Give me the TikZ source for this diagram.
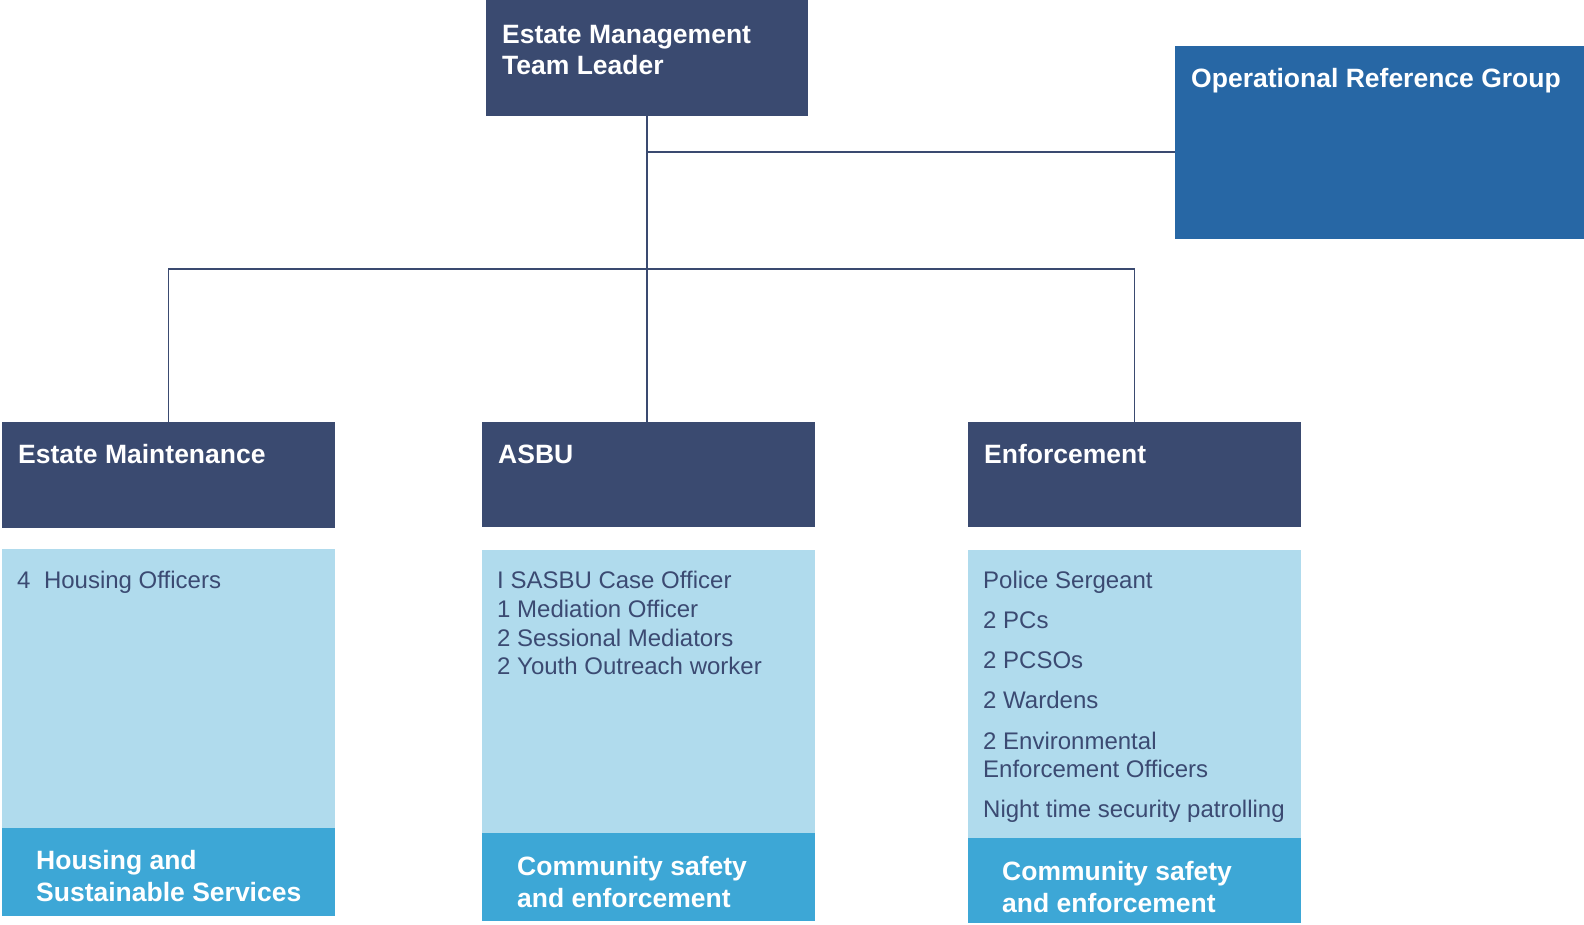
\documentclass[tikz,border=0pt]{standalone}
\usepackage{fontspec}
\setmainfont{Liberation Sans}
\definecolor{navy}{HTML}{3A4A70}
\definecolor{orgblue}{HTML}{2767A5}
\definecolor{lightblue}{HTML}{B0DBED}
\definecolor{cyanblue}{HTML}{3DA7D6}
\definecolor{bodytext}{HTML}{3B4A72}
\tikzset{
  box/.style={draw=none, inner sep=0pt, outer sep=0pt},
  hdr/.style={anchor=base west, inner sep=0pt, text=white, font=\bfseries\fontsize{26.5}{32}\selectfont},
  bodytxt/.style={anchor=base west, inner sep=0pt, text=bodytext, font=\fontsize{24}{28}\selectfont},
  link/.style={draw=navy, line width=1.7pt}
}
\begin{document}
\begin{tikzpicture}[x=1pt,y=-1pt]
\useasboundingbox (0,0) rectangle (1584,924);
% boxes
\node[box, fill=navy, minimum width=322pt, minimum height=116pt] (top) at (647,58) {};
\node[box, fill=orgblue, minimum width=409pt, minimum height=193pt] (org) at (1379.5,142.5) {};
\node[box, fill=navy, minimum width=333pt, minimum height=106pt] (em) at (168.5,475) {};
\node[box, fill=navy, minimum width=333pt, minimum height=105pt] (asbu) at (648.5,474.5) {};
\node[box, fill=navy, minimum width=333pt, minimum height=105pt] (enf) at (1134.5,474.5) {};
\node[box, fill=lightblue, minimum width=333pt, minimum height=279pt] (emlist) at (168.5,688.5) {};
\node[box, fill=cyanblue, minimum width=333pt, minimum height=88pt] (emfoot) at (168.5,872) {};
\node[box, fill=lightblue, minimum width=333pt, minimum height=283pt] (asbulist) at (648.5,691.5) {};
\node[box, fill=cyanblue, minimum width=333pt, minimum height=88pt] (asbufoot) at (648.5,877) {};
\node[box, fill=lightblue, minimum width=333pt, minimum height=288pt] (enflist) at (1134.5,694) {};
\node[box, fill=cyanblue, minimum width=333pt, minimum height=85pt] (enffoot) at (1134.5,880.5) {};
% connectors
\coordinate (j1) at (647,152);
\coordinate (bus) at (647,269);
\draw[link] (top.south) -- (bus);
\draw[link] (j1) -- (j1 -| org.west);
\draw[link] (em.north) |- (bus) -| (enf.north);
\draw[link] (bus) -- (bus |- asbu.north);
% header texts
\node[hdr] (t1) at (502,43) {Estate Management};
\node[hdr] (t2) at (502,74) {Team Leader};
\node[hdr] (t3) at (1191,87) {Operational Reference Group};
\node[hdr] (t4) at (18,463) {Estate Maintenance};
\node[hdr] (t5) at (498,463) {ASBU};
\node[hdr] (t6) at (984,463) {Enforcement};
% body texts
\node[bodytxt] (b1) at (17,588) {4\hspace{13.5pt}Housing Officers};
\node[bodytxt] (b2) at (497,588) {I SASBU Case Officer};
\node[bodytxt] (b3) at (497,617) {1 Mediation Officer};
\node[bodytxt] (b4) at (497,646) {2 Sessional Mediators};
\node[bodytxt] (b5) at (497,674) {2 Youth Outreach worker};
\node[bodytxt] (c1) at (983,588) {Police Sergeant};
\node[bodytxt] (c2) at (983,628) {2 PCs};
\node[bodytxt] (c3) at (983,668) {2 PCSOs};
\node[bodytxt] (c4) at (983,708) {2 Wardens};
\node[bodytxt] (c5) at (983,749) {2 Environmental};
\node[bodytxt] (c6) at (983,777) {Enforcement Officers};
\node[bodytxt] (c7) at (983,817) {Night time security patrolling};
% footer texts
\node[hdr] (f1) at (36,869) {Housing and};
\node[hdr] (f2) at (36,901) {Sustainable Services};
\node[hdr] (f3) at (517,875) {Community safety};
\node[hdr] (f4) at (517,907) {and enforcement};
\node[hdr] (f5) at (1002,880) {Community safety};
\node[hdr] (f6) at (1002,912) {and enforcement};
\end{tikzpicture}
\end{document}
